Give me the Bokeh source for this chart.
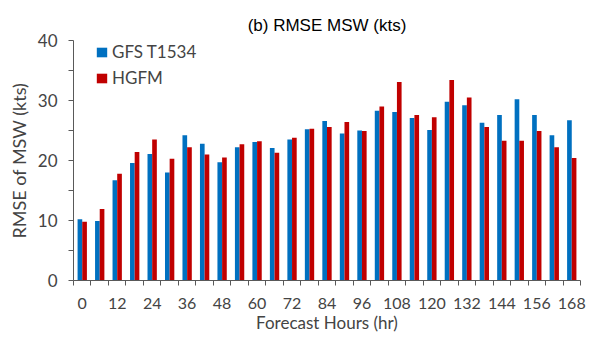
from bokeh.plotting import figure
from bokeh.models import ColumnDataSource, FixedTicker, Legend, LegendItem
from bokeh.transform import dodge
from bokeh.embed import file_html
from bokeh.resources import INLINE

hours = [0, 6, 12, 18, 24, 30, 36, 42, 48, 54, 60, 66, 72, 78, 84, 90, 96, 102,
         108, 114, 120, 126, 132, 138, 144, 150, 156, 162, 168]
gfs = [10.2, 9.9, 16.7, 19.6, 21.1, 18.0, 24.2, 22.8, 19.7, 22.2, 23.1, 22.1, 23.5,
       25.2, 26.6, 24.5, 25.0, 28.3, 28.1, 27.1, 25.1, 29.8, 29.2, 26.3, 27.6, 30.2,
       27.6, 24.2, 26.7]
hgfm = [9.8, 11.9, 17.8, 21.4, 23.5, 20.3, 22.2, 21.0, 20.5, 22.7, 23.2, 21.3, 23.8,
        25.3, 25.6, 26.4, 24.9, 29.0, 33.1, 27.6, 27.2, 33.4, 30.5, 25.6, 23.3, 23.3,
        24.9, 22.2, 20.4]
x_tick_labels = [0, 12, 24, 36, 48, 60, 72, 84, 96, 108, 120, 132, 144, 156, 168]
y_tick_labels = [0, 10, 20, 30, 40]

src = ColumnDataSource(dict(h=hours, gfs=gfs, hgfm=hgfm))

p = figure(frame_width=507, frame_height=240, output_backend="svg", toolbar_location=None,
           x_range=(-3, 171), y_range=(0, 40),
           min_border_left=73, min_border_right=6, min_border_top=40, min_border_bottom=56,
           title="(b) RMSE MSW (kts)")
p.title.align = "center"
p.title.text_font = "Liberation Sans"
p.title.text_font_size = "17px"
p.title.text_font_style = "normal"
p.title.text_color = "#000000"
p.title.offset = 0
p.title.standoff = 12

r1 = p.vbar(x=dodge('h', -0.8, range=p.x_range), top='gfs', width=1.6, source=src,
            fill_color="#0070C0", line_color=None)
r2 = p.vbar(x=dodge('h', 0.8, range=p.x_range), top='hgfm', width=1.6, source=src,
            fill_color="#C00000", line_color=None)

p.grid.visible = False
p.outline_line_color = None
p.background_fill_color = "white"

xa = p.xaxis[0]
xa.ticker = FixedTicker(ticks=x_tick_labels, minor_ticks=[h - 3 for h in hours] + [171])
xa.major_tick_line_color = None
xa.minor_tick_in = 0
xa.minor_tick_out = 5
xa.minor_tick_line_color = "#595959"
xa.axis_line_color = "#595959"
xa.major_label_text_font = "Lato"
xa.major_label_text_font_size = "16px"
xa.major_label_standoff = 11
xa.axis_label = "Forecast Hours (hr)"
xa.axis_label_text_font = "Lato"
xa.axis_label_text_font_size = "17px"
xa.axis_label_text_font_style = "normal"
xa.axis_label_standoff = 0

ya = p.yaxis[0]
ya.ticker = FixedTicker(ticks=y_tick_labels, minor_ticks=[5, 15, 25, 35])
ya.major_tick_in = 0
ya.major_tick_out = 5
ya.minor_tick_in = 0
ya.minor_tick_out = 5
ya.major_tick_line_color = "#595959"
ya.minor_tick_line_color = "#595959"
ya.axis_line_color = "#595959"
ya.major_label_text_font = "Lato"
ya.major_label_text_font_size = "17px"
ya.major_label_standoff = 11
ya.axis_label = "RMSE of MSW (kts)"
ya.axis_label_text_font = "Lato"
ya.axis_label_text_font_size = "18px"
ya.axis_label_text_font_style = "normal"
ya.axis_label_standoff = 5

legend = Legend(items=[LegendItem(label="GFS T1534", renderers=[r1]),
                       LegendItem(label="HGFM", renderers=[r2])],
                location=(22, 192), orientation="vertical")
legend.margin = 0
legend.padding = 0
legend.spacing = 5
legend.glyph_width = 13
legend.glyph_height = 12
legend.label_height = 20
legend.label_width = 110
legend.label_standoff = 4
legend.label_text_font = "Lato"
legend.label_text_font_size = "17px"
legend.background_fill_alpha = 0
legend.border_line_color = None
p.add_layout(legend)

open("out.html", "w").write(file_html(p, INLINE))
